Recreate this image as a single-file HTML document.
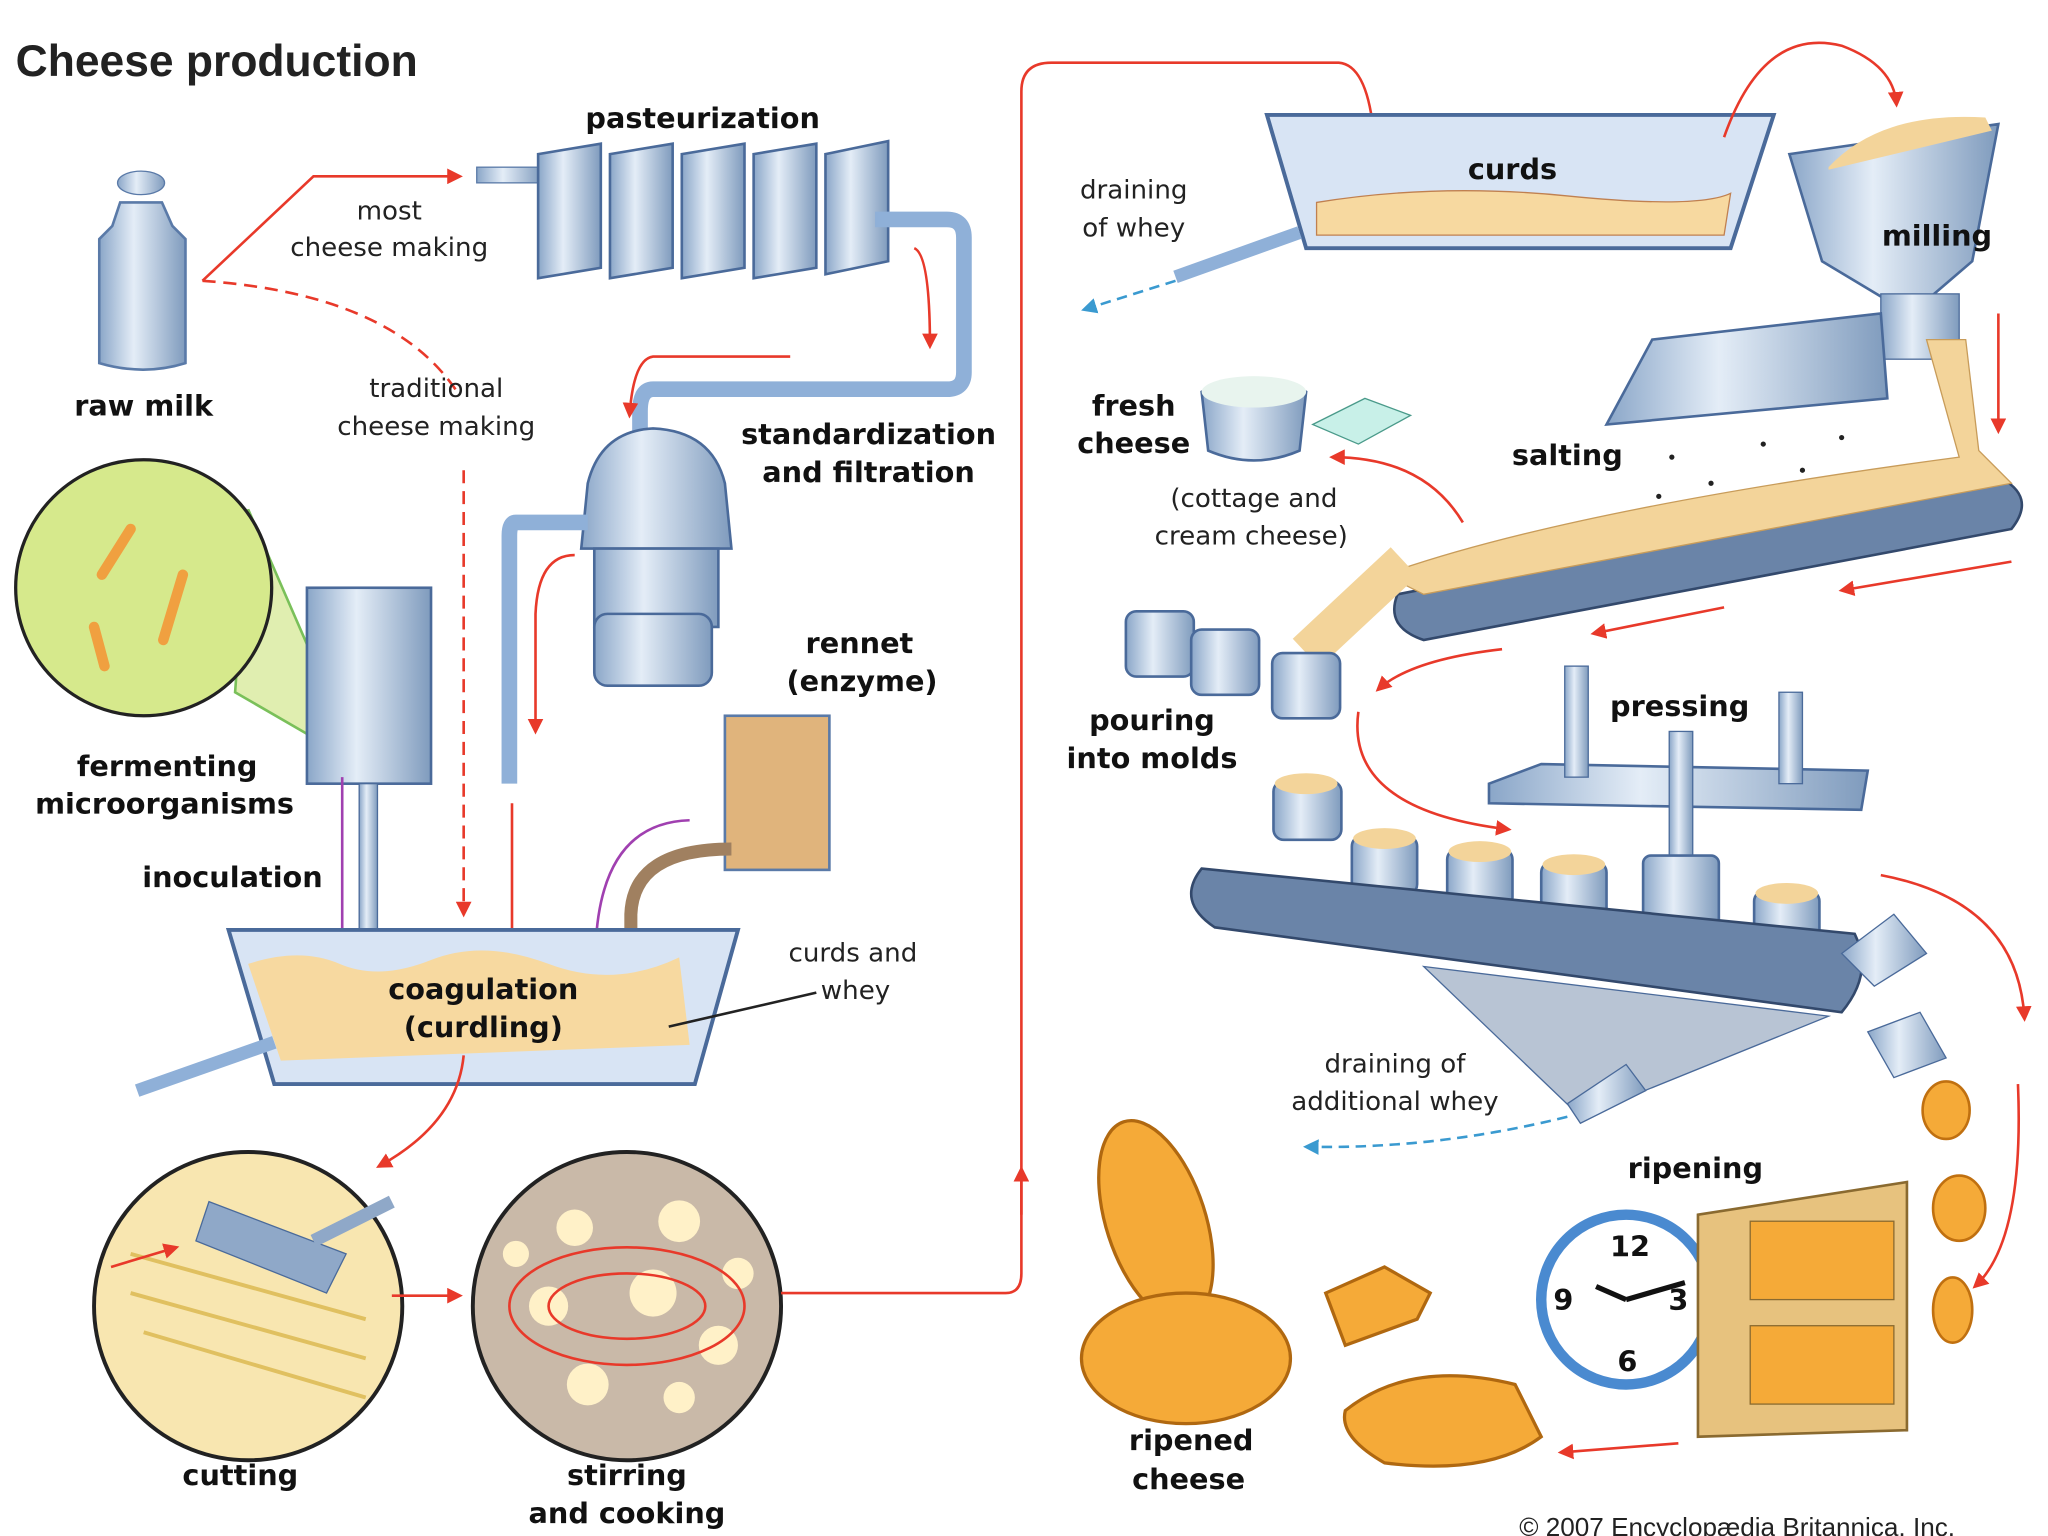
<!DOCTYPE html>
<html><head><meta charset="utf-8"><style>
html,body{margin:0;padding:0;background:#fff;width:2048px;height:1536px;overflow:hidden}
svg{display:block}
.l{font-family:"DejaVu Sans","Liberation Sans",sans-serif;font-weight:bold;font-size:22px;fill:#111;text-anchor:middle}
.t{font-family:"DejaVu Sans","Liberation Sans",sans-serif;font-size:20px;fill:#222;text-anchor:middle}
</style></head><body>
<svg width="2048" height="1536" viewBox="0 0 1568 1176" xmlns="http://www.w3.org/2000/svg">
<defs>
<marker id="a" viewBox="0 0 10 10" refX="8" refY="5" markerWidth="6" markerHeight="6" orient="auto"><path d="M0,0L10,5L0,10z" fill="#e8392a"/></marker>
<marker id="b" viewBox="0 0 10 10" refX="8" refY="5" markerWidth="6" markerHeight="6" orient="auto"><path d="M0,0L10,5L0,10z" fill="#3a9ad0"/></marker>
<marker id="p" viewBox="0 0 10 10" refX="8" refY="5" markerWidth="6" markerHeight="6" orient="auto"><path d="M0,0L10,5L0,10z" fill="#a040b0"/></marker>
<linearGradient id="m" x1="0" x2="1"><stop offset="0" stop-color="#8aa6c8"/><stop offset=".4" stop-color="#e4edf7"/><stop offset="1" stop-color="#7f9bbd"/></linearGradient>
</defs>
<text x="12" y="58" font-family="Liberation Sans,sans-serif" font-size="34" font-weight="bold" fill="#222">Cheese production</text>

<!-- milk can -->
<ellipse cx="108" cy="140" rx="18" ry="9" fill="url(#m)" stroke="#5a7aa8"/>
<path d="M92,155 h32 l8,18 l10,10 v95 q-32,10 -66,0 v-95 l10,-10z" fill="url(#m)" stroke="#5a7aa8" stroke-width="2"/>
<text x="110" y="318" class="l">raw milk</text>
<path d="M155,215 L240,135 L352,135" fill="none" stroke="#e8392a" stroke-width="2" marker-end="url(#a)"/>
<path d="M155,215 Q300,225 350,300" fill="none" stroke="#e8392a" stroke-width="2" stroke-dasharray="10,6"/>
<path d="M355,360 V700" fill="none" stroke="#e8392a" stroke-width="2" stroke-dasharray="10,6" marker-end="url(#a)"/>
<text x="298" y="168" class="t">most</text><text x="298" y="196" class="t">cheese making</text>
<text x="334" y="304" class="t">traditional</text><text x="334" y="333" class="t">cheese making</text>

<!-- pasteurization -->
<text x="538" y="98" class="l">pasteurization</text>
<rect x="365" y="128" width="50" height="12" fill="url(#m)" stroke="#5a7aa8"/>
<g fill="url(#m)" stroke="#4a6a9a" stroke-width="2">
<path d="M412,118 l48,-8 v95 l-48,8z"/><path d="M467,118 l48,-8 v95 l-48,8z"/><path d="M522,118 l48,-8 v95 l-48,8z"/><path d="M577,118 l48,-8 v95 l-48,8z"/><path d="M632,118 l48,-10 v92 l-48,10z"/>
</g>
<path d="M670,168 H725 Q738,168 738,182 V285 Q738,298 725,298 H500 Q490,298 490,315 V330" fill="none" stroke="#8fb0d8" stroke-width="12"/>
<path d="M700,190 Q712,195 712,265" fill="none" stroke="#e8392a" stroke-width="2" marker-end="url(#a)"/>
<path d="M605,273 H500 Q485,275 482,318" fill="none" stroke="#e8392a" stroke-width="2" marker-end="url(#a)"/>
<text x="665" y="340" class="l">standardization</text><text x="665" y="369" class="l">and filtration</text>

<!-- centrifuge -->
<path d="M450,370 Q460,330 500,328 Q545,330 555,370 L560,420 L445,420z" fill="url(#m)" stroke="#4a6a9a" stroke-width="2"/>
<rect x="455" y="420" width="95" height="60" fill="url(#m)" stroke="#4a6a9a" stroke-width="2"/>
<rect x="455" y="470" width="90" height="55" rx="10" fill="url(#m)" stroke="#4a6a9a" stroke-width="2"/>
<path d="M450,400 H395 Q390,400 390,410 V600" fill="none" stroke="#8fb0d8" stroke-width="12"/>
<path d="M440,425 Q412,425 410,470 V560" fill="none" stroke="#e8392a" stroke-width="2" marker-end="url(#a)"/>
<path d="M392,615 V725" stroke="#e8392a" stroke-width="2" marker-end="url(#a)"/>

<!-- fermenting -->
<path d="M190,390 L275,585 L180,530z" fill="#e0eeb0" stroke="#7ac05a" stroke-width="2"/>
<circle cx="110" cy="450" r="98" fill="#d6e98c" stroke="#222" stroke-width="2.5"/>
<g stroke="#f0a040" stroke-width="8" stroke-linecap="round"><line x1="100" y1="405" x2="78" y2="440"/><line x1="140" y1="440" x2="125" y2="490"/><line x1="72" y1="480" x2="80" y2="510"/></g>
<rect x="235" y="450" width="95" height="150" fill="url(#m)" stroke="#4a6a9a" stroke-width="2"/>
<rect x="275" y="600" width="14" height="115" fill="url(#m)" stroke="#4a6a9a"/>
<text x="128" y="594" class="l">fermenting</text><text x="126" y="623" class="l">microorganisms</text>
<text x="178" y="679" class="l">inoculation</text>
<path d="M262,595 V745" stroke="#a040b0" stroke-width="2" marker-end="url(#p)"/>

<!-- rennet -->
<text x="658" y="500" class="l">rennet</text><text x="660" y="529" class="l">(enzyme)</text>
<rect x="555" y="548" width="80" height="118" fill="#e0b47c" stroke="#5a7aa8" stroke-width="2"/>
<path d="M560,650 Q485,650 483,700 V718" fill="none" stroke="#a08060" stroke-width="10"/>
<path d="M528,628 Q460,630 456,725" fill="none" stroke="#a040b0" stroke-width="2" marker-end="url(#p)"/>

<!-- vat -->
<path d="M175,712 H565 L532,830 H210z" fill="#d8e4f4" stroke="#4a6a9a" stroke-width="3"/>
<path d="M190,738 Q230,725 260,738 T330,735 T420,738 T520,733 L528,800 L215,812z" fill="#f7d9a0"/>
<path d="M105,835 L210,798" stroke="#8fb0d8" stroke-width="10"/>
<text x="370" y="765" class="l">coagulation</text><text x="370" y="794" class="l">(curdling)</text>
<text x="653" y="736" class="t">curds and</text><text x="655" y="765" class="t">whey</text>
<line x1="625" y1="760" x2="512" y2="786" stroke="#222" stroke-width="2"/>
<path d="M355,808 Q350,860 290,893" fill="none" stroke="#e8392a" stroke-width="2" marker-end="url(#a)"/>

<!-- cutting / stirring -->
<circle cx="190" cy="1000" r="118" fill="#f8e6b0" stroke="#222" stroke-width="3"/>
<g stroke="#e0c060" stroke-width="3"><line x1="100" y1="960" x2="280" y2="1010"/><line x1="100" y1="990" x2="280" y2="1040"/><line x1="110" y1="1020" x2="280" y2="1070"/></g>
<path d="M160,920 L265,960 L250,990 L150,950z" fill="#8fa8c8" stroke="#4a6a9a"/>
<line x1="240" y1="950" x2="300" y2="920" stroke="#8fa8c8" stroke-width="10"/>
<path d="M85,970 L135,955" stroke="#e8392a" stroke-width="2" marker-end="url(#a)"/>
<text x="184" y="1137" class="l">cutting</text>
<path d="M300,992 H352" stroke="#e8392a" stroke-width="2" marker-end="url(#a)"/>
<circle cx="480" cy="1000" r="118" fill="#c9b9a8" stroke="#222" stroke-width="3"/>
<g fill="#fff1c8"><circle cx="440" cy="940" r="14"/><circle cx="520" cy="935" r="16"/><circle cx="420" cy="1000" r="15"/><circle cx="500" cy="990" r="18"/><circle cx="550" cy="1030" r="15"/><circle cx="450" cy="1060" r="16"/><circle cx="520" cy="1070" r="12"/><circle cx="395" cy="960" r="10"/><circle cx="565" cy="975" r="12"/></g>
<ellipse cx="480" cy="1000" rx="90" ry="45" fill="none" stroke="#e8392a" stroke-width="2"/>
<ellipse cx="480" cy="1000" rx="60" ry="25" fill="none" stroke="#e8392a" stroke-width="2"/>
<text x="480" y="1137" class="l">stirring</text><text x="480" y="1166" class="l">and cooking</text>
<path d="M598,990 H770 Q782,990 782,975 V70 Q782,48 805,48 H1025 Q1050,50 1053,120" fill="none" stroke="#e8392a" stroke-width="2" marker-end="url(#a)"/>
<path d="M782,930 V895" stroke="#e8392a" stroke-width="2" marker-end="url(#a)"/>

<!-- curds -->
<path d="M970,88 H1358 L1325,190 H1000z" fill="#d8e4f4" stroke="#4a6a9a" stroke-width="3"/>
<path d="M1008,155 Q1100,140 1200,150 T1325,148 L1320,180 H1008z" fill="#f7d9a0" stroke="#c08050"/>
<text x="1158" y="137" class="l">curds</text>
<path d="M900,212 L995,178" stroke="#8fb0d8" stroke-width="10"/>
<path d="M900,215 L830,237" stroke="#3a9ad0" stroke-width="2" stroke-dasharray="8,5" marker-end="url(#b)"/>
<text x="868" y="152" class="t">draining</text><text x="868" y="181" class="t">of whey</text>
<path d="M1320,105 Q1350,20 1410,35 Q1450,50 1452,80" fill="none" stroke="#e8392a" stroke-width="2" marker-end="url(#a)"/>

<!-- milling -->
<path d="M1370,118 L1530,95 L1510,200 L1475,230 L1445,230 L1395,200z" fill="url(#m)" stroke="#4a6a9a" stroke-width="2"/>
<path d="M1400,128 Q1440,85 1520,90 L1525,100 L1400,130z" fill="#f3d49a"/>
<rect x="1440" y="225" width="60" height="50" fill="url(#m)" stroke="#4a6a9a"/>
<text x="1483" y="188" class="l">milling</text>
<path d="M1530,240 V330" stroke="#e8392a" stroke-width="2" marker-end="url(#a)"/>

<!-- salting -->
<path d="M1230,325 L1265,260 L1440,240 L1445,305z" fill="url(#m)" stroke="#4a6a9a" stroke-width="2"/>
<text x="1200" y="356" class="l">salting</text>
<g fill="#222"><circle cx="1280" cy="350" r="2"/><circle cx="1310" cy="370" r="2"/><circle cx="1350" cy="340" r="2"/><circle cx="1380" cy="360" r="2"/><circle cx="1410" cy="335" r="2"/><circle cx="1300" cy="390" r="2"/><circle cx="1340" cy="380" r="2"/><circle cx="1420" cy="370" r="2"/><circle cx="1270" cy="380" r="2"/><circle cx="1395" cy="390" r="2"/></g>
<!-- upper conveyor -->
<path d="M1070,455 L1530,365 Q1560,380 1540,405 L1090,490 Q1060,480 1070,455z" fill="#6a84a8" stroke="#33496c" stroke-width="2"/>
<path d="M1060,440 Q1200,390 1500,350 L1475,260 L1505,260 L1515,345 L1540,370 L1090,455z" fill="#f3d49a" stroke="#c89c5a"/>
<path d="M1075,430 L1000,500" stroke="#f3d49a" stroke-width="30"/>
<path d="M1540,430 L1410,452" stroke="#e8392a" stroke-width="2" marker-end="url(#a)"/>
<path d="M1320,465 L1220,485" stroke="#e8392a" stroke-width="2" marker-end="url(#a)"/>
<path d="M1150,497 Q1080,505 1055,528" fill="none" stroke="#e8392a" stroke-width="2" marker-end="url(#a)"/>
<path d="M1120,400 Q1090,350 1020,350" fill="none" stroke="#e8392a" stroke-width="2" marker-end="url(#a)"/>

<!-- fresh cheese -->
<path d="M920,300 Q960,280 1000,300 L995,345 Q960,360 925,345z" fill="url(#m)" stroke="#4a6a9a" stroke-width="2"/>
<ellipse cx="960" cy="300" rx="40" ry="12" fill="#e8f4ee"/>
<path d="M1005,325 L1045,305 L1080,318 L1040,340z" fill="#c8f0e8" stroke="#4a9a8a"/>
<text x="868" y="318" class="l">fresh</text><text x="868" y="347" class="l">cheese</text>
<text x="960" y="388" class="t">(cottage and</text><text x="958" y="417" class="t">cream cheese)</text>

<!-- molds -->
<g fill="url(#m)" stroke="#4a6a9a" stroke-width="2">
<rect x="862" y="468" width="52" height="50" rx="8"/><rect x="912" y="482" width="52" height="50" rx="8"/><rect x="974" y="500" width="52" height="50" rx="8"/>
<rect x="975" y="598" width="52" height="45" rx="8"/><rect x="1035" y="640" width="50" height="45" rx="8"/><rect x="1108" y="650" width="50" height="45" rx="8"/><rect x="1180" y="660" width="50" height="45" rx="8"/><rect x="1343" y="682" width="50" height="45" rx="8"/>
</g>
<g fill="#f3d49a"><ellipse cx="1000" cy="600" rx="24" ry="8"/><ellipse cx="1060" cy="642" rx="24" ry="8"/><ellipse cx="1133" cy="652" rx="24" ry="8"/><ellipse cx="1205" cy="662" rx="24" ry="8"/><ellipse cx="1368" cy="684" rx="24" ry="8"/></g>
<text x="882" y="559" class="l">pouring</text><text x="882" y="588" class="l">into molds</text>
<path d="M1040,545 Q1030,620 1155,635" fill="none" stroke="#e8392a" stroke-width="2" marker-end="url(#a)"/>

<!-- press -->
<path d="M1140,600 L1180,585 L1430,590 L1425,620 L1140,615z" fill="url(#m)" stroke="#4a6a9a" stroke-width="2"/>
<rect x="1198" y="510" width="18" height="85" fill="url(#m)" stroke="#4a6a9a"/>
<rect x="1362" y="530" width="18" height="70" fill="url(#m)" stroke="#4a6a9a"/>
<rect x="1278" y="560" width="18" height="100" fill="url(#m)" stroke="#4a6a9a"/>
<rect x="1258" y="655" width="58" height="60" rx="6" fill="url(#m)" stroke="#4a6a9a" stroke-width="2"/>
<text x="1286" y="548" class="l">pressing</text>
<!-- lower conveyor -->
<path d="M920,665 L1420,715 Q1435,745 1410,775 L930,710 Q900,690 920,665z" fill="#6a84a8" stroke="#33496c" stroke-width="2"/>
<path d="M1090,740 L1400,778 L1210,855z" fill="#b8c4d4" stroke="#4a6a9a"/>
<path d="M1200,845 L1245,815 L1260,835 L1210,860z" fill="url(#m)" stroke="#4a6a9a"/>
<path d="M1200,855 Q1100,880 1000,878" fill="none" stroke="#3a9ad0" stroke-width="2" stroke-dasharray="8,5" marker-end="url(#b)"/>
<text x="1068" y="821" class="t">draining of</text><text x="1068" y="850" class="t">additional whey</text>
<path d="M1410,730 L1450,700 L1475,730 L1435,755z" fill="url(#m)" stroke="#4a6a9a"/>
<path d="M1430,790 L1470,775 L1490,810 L1450,825z" fill="url(#m)" stroke="#4a6a9a"/>
<path d="M1440,670 Q1545,690 1550,780" fill="none" stroke="#e8392a" stroke-width="2" marker-end="url(#a)"/>
<path d="M1545,830 Q1550,950 1512,985" fill="none" stroke="#e8392a" stroke-width="2" marker-end="url(#a)"/>
<g fill="#f5aa38" stroke="#c07010" stroke-width="2"><ellipse cx="1490" cy="850" rx="18" ry="22"/><ellipse cx="1500" cy="925" rx="20" ry="25"/><ellipse cx="1495" cy="1003" rx="15" ry="25"/></g>

<!-- ripening -->
<text x="1298" y="902" class="l">ripening</text>
<circle cx="1245" cy="995" r="65" fill="#fff" stroke="#4a8ad0" stroke-width="8"/>
<text x="1248" y="962" class="l" font-size="20">12</text><text x="1285" y="1003" class="l" font-size="20">3</text><text x="1246" y="1050" class="l" font-size="20">6</text><text x="1197" y="1003" class="l" font-size="20">9</text>
<path d="M1245,995 L1290,982 M1245,995 L1222,985" stroke="#111" stroke-width="4"/>
<path d="M1300,930 L1460,905 V1095 L1300,1100z" fill="#e7c27e" stroke="#8a6a30" stroke-width="2"/>
<rect x="1340" y="935" width="110" height="60" fill="#f5aa38" stroke="#8a6a30"/>
<rect x="1340" y="1015" width="110" height="60" fill="#f5aa38" stroke="#8a6a30"/>
<path d="M1285,1105 L1195,1112" stroke="#e8392a" stroke-width="2" marker-end="url(#a)"/>

<!-- ripened cheese -->
<g fill="#f5aa38" stroke="#b06810" stroke-width="2.5">
<ellipse cx="885" cy="935" rx="38" ry="80" transform="rotate(-18 885 935)"/>
<ellipse cx="908" cy="1040" rx="80" ry="50"/>
<path d="M1015,990 L1060,970 L1095,990 L1085,1010 L1030,1030z"/>
<path d="M1030,1080 Q1080,1040 1160,1060 L1180,1100 Q1140,1130 1060,1120 Q1025,1100 1030,1080z"/>
</g>
<text x="912" y="1110" class="l">ripened</text><text x="910" y="1140" class="l">cheese</text>
<text x="1330" y="1176" font-family="Liberation Sans,sans-serif" font-size="20" fill="#222" text-anchor="middle">© 2007 Encyclopædia Britannica, Inc.</text>
</svg>
</body></html>
